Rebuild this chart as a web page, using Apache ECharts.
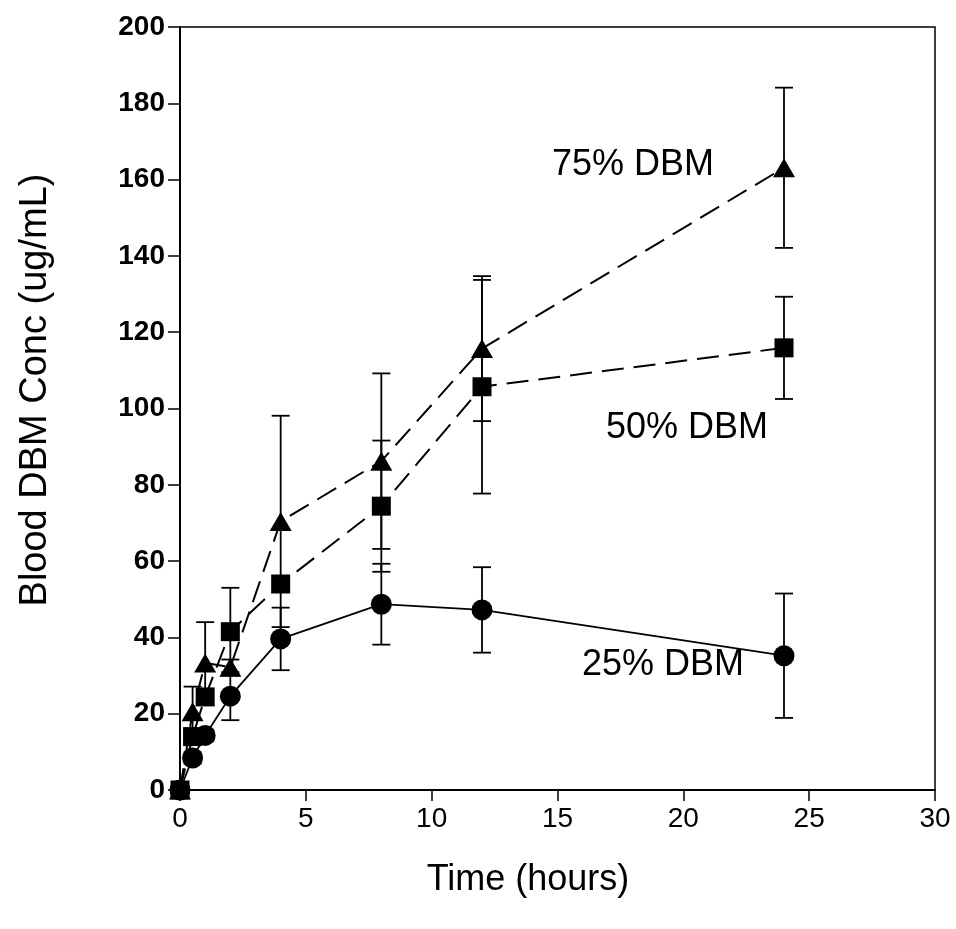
<!DOCTYPE html>
<html>
<head>
<meta charset="utf-8">
<script src="https://cdn.jsdelivr.net/npm/echarts@6/dist/echarts.min.js"></script>
<style>
html,body{margin:0;padding:0;background:#fff;}
#chart{width:956px;height:929px;}
</style>
</head>
<body>
<div id="chart"></div>
<script>
var time = [0, 0.5, 1, 2, 4, 8, 12, 24];
var dbm25 = [0, 8.4, 14.3, 24.6, 39.6, 48.7, 47.2, 35.2];
var dbm25Err = [0, 1.5, 1.5, 6.3, 8.2, 10.6, 11.2, 16.3];
var dbm50 = [0, 14.0, 24.4, 41.5, 54.0, 74.4, 105.7, 115.9];
var dbm50Err = [0, 1.5, 2, 11.5, 2, 17.2, 28, 13.4];
var dbm75 = [0, 20.5, 33.3, 32.2, 70.4, 86.2, 115.7, 163.1];
var dbm75Err = [0, 6.6, 10.7, 2, 27.7, 23, 19, 21];
var xTicks = [0, 5, 10, 15, 20, 25, 30];
var yTicks = [0, 20, 40, 60, 80, 100, 120, 140, 160, 180, 200];
var seriesNames = ['25% DBM', '50% DBM', '75% DBM'];

function pairs(vals) { return time.map(function (t, i) { return [t, vals[i]]; }); }
function errData(vals, errs) { return time.map(function (t, i) { return [t, vals[i] - errs[i], vals[i] + errs[i]]; }); }

function errRender(params, api) {
  var x = api.value(0), lo = api.value(1), hi = api.value(2);
  if (hi - lo <= 0) return;
  var pLo = api.coord([x, lo]), pHi = api.coord([x, hi]);
  var hw = 9;
  var st = { stroke: '#000', lineWidth: 1.8 };
  return {
    type: 'group',
    children: [
      { type: 'line', shape: { x1: pLo[0], y1: pLo[1], x2: pHi[0], y2: pHi[1] }, style: st },
      { type: 'line', shape: { x1: pLo[0] - hw, y1: pLo[1], x2: pLo[0] + hw, y2: pLo[1] }, style: st },
      { type: 'line', shape: { x1: pHi[0] - hw, y1: pHi[1], x2: pHi[0] + hw, y2: pHi[1] }, style: st }
    ]
  };
}

var FONT = '"Liberation Sans", Arial, sans-serif';
var chart = echarts.init(document.getElementById('chart'), null, { renderer: 'canvas' });

var option = {
  backgroundColor: '#fff',
  animation: false,
  grid: { left: 180, right: 21, top: 27, bottom: 139, show: true, borderColor: '#000', borderWidth: 1.5, backgroundColor: 'transparent' },
  xAxis: {
    type: 'value', min: xTicks[0], max: xTicks[xTicks.length - 1], interval: 5,
    axisLine: { show: true, onZero: false, lineStyle: { color: '#000', width: 2 } },
    axisTick: { show: true, inside: false, length: 11, lineStyle: { color: '#000', width: 1.5 } },
    splitLine: { show: false },
    axisLabel: { color: '#000', fontSize: 28, fontFamily: FONT, margin: 15 }
  },
  yAxis: {
    type: 'value', min: yTicks[0], max: yTicks[yTicks.length - 1], interval: 20,
    axisLine: { show: true, onZero: false, lineStyle: { color: '#000', width: 2 } },
    axisTick: { show: true, inside: false, length: 12, lineStyle: { color: '#000', width: 1.5 } },
    splitLine: { show: false },
    axisLabel: { color: '#000', fontSize: 28, fontWeight: 'bold', fontFamily: FONT, margin: 15 }
  },
  series: [
    { type: 'custom', name: 'err25', renderItem: errRender, data: errData(dbm25, dbm25Err), z: 1, silent: true },
    { type: 'custom', name: 'err50', renderItem: errRender, data: errData(dbm50, dbm50Err), z: 1, silent: true },
    { type: 'custom', name: 'err75', renderItem: errRender, data: errData(dbm75, dbm75Err), z: 1, silent: true },
    {
      type: 'line', name: seriesNames[0], data: pairs(dbm25), z: 3,
      symbol: 'circle', symbolSize: 21,
      lineStyle: { color: '#000', width: 1.8, type: 'solid' },
      itemStyle: { color: '#000' }
    },
    {
      type: 'line', name: seriesNames[1], data: pairs(dbm50), z: 3,
      symbol: 'rect', symbolSize: 19,
      lineStyle: { color: '#000', width: 2, type: [22, 10] },
      itemStyle: { color: '#000' }
    },
    {
      type: 'line', name: seriesNames[2], data: pairs(dbm75), z: 3,
      symbol: 'triangle', symbolSize: [22, 19],
      lineStyle: { color: '#000', width: 2, type: [22, 10] },
      itemStyle: { color: '#000' }
    }
  ],
  graphic: [
    { type: 'text', x: 528, y: 880, style: { text: 'Time (hours)', font: '36px ' + FONT, fill: '#000', textAlign: 'center', textVerticalAlign: 'middle' } },
    { type: 'text', x: 36, y: 390, rotation: Math.PI / 2, style: { text: 'Blood DBM Conc (ug/mL)', font: '38px ' + FONT, fill: '#000', textAlign: 'center', textVerticalAlign: 'middle' } },
    { type: 'text', x: 633, y: 165, style: { text: seriesNames[2], font: '36px ' + FONT, fill: '#000', textAlign: 'center', textVerticalAlign: 'middle' } },
    { type: 'text', x: 687, y: 428, style: { text: seriesNames[1], font: '36px ' + FONT, fill: '#000', textAlign: 'center', textVerticalAlign: 'middle' } },
    { type: 'text', x: 663, y: 665, style: { text: seriesNames[0], font: '36px ' + FONT, fill: '#000', textAlign: 'center', textVerticalAlign: 'middle' } }
  ]
};
chart.setOption(option);
</script>
</body>
</html>
